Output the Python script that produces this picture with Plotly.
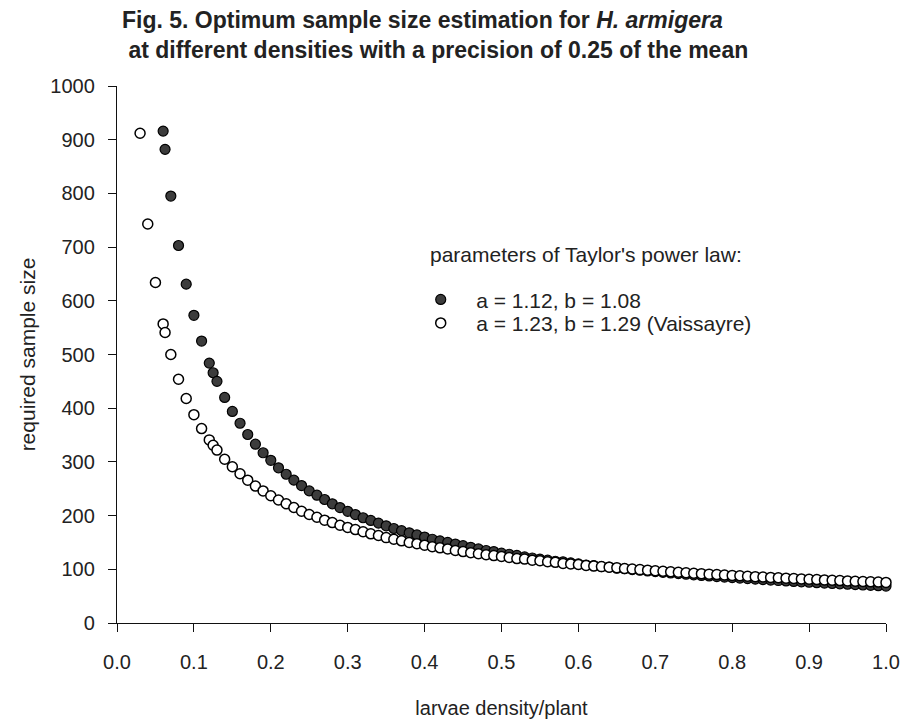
import plotly.graph_objects as go

# larvae density per plant (x values of the plotted points)
density = [0.03, 0.04, 0.05, 0.06, 0.0625, 0.07, 0.08, 0.09, 0.10, 0.11, 0.12, 0.125,
           0.13, 0.14, 0.15, 0.16, 0.17, 0.18, 0.19, 0.20, 0.21, 0.22, 0.23, 0.24, 0.25,
           0.26, 0.27, 0.28, 0.29, 0.30, 0.31, 0.32, 0.33, 0.34, 0.35, 0.36, 0.37, 0.38,
           0.39, 0.40, 0.41, 0.42, 0.43, 0.44, 0.45, 0.46, 0.47, 0.48, 0.49, 0.50, 0.51,
           0.52, 0.53, 0.54, 0.55, 0.56, 0.57, 0.58, 0.59, 0.60, 0.61, 0.62, 0.63, 0.64,
           0.65, 0.66, 0.67, 0.68, 0.69, 0.70, 0.71, 0.72, 0.73, 0.74, 0.75, 0.76, 0.77,
           0.78, 0.79, 0.80, 0.81, 0.82, 0.83, 0.84, 0.85, 0.86, 0.87, 0.88, 0.89, 0.90,
           0.91, 0.92, 0.93, 0.94, 0.95, 0.96, 0.97, 0.98, 0.99, 1.00]

# series 1: a = 1.12, b = 1.08 (filled circles), starts at density 0.06
density_filled = density[3:]
size_filled = [916, 882, 795, 703, 631, 573, 525, 484, 466, 450,
               420, 394, 372, 351, 333, 317, 303, 289, 277, 266, 256, 246, 238, 230,
               222, 215, 208, 202, 196, 191, 186, 181, 176, 172, 168, 164, 160, 156,
               153, 150, 147, 144, 141, 138, 135, 133, 130, 128, 126, 123, 121, 119,
               117, 115, 114, 112, 110, 108, 107, 105, 104, 102, 101, 99.5, 98.2, 96.9,
               95.6, 94.3, 93.1, 92.0, 90.8, 89.7, 88.6, 87.6, 86.5, 85.5, 84.5, 83.6,
               82.6, 81.7, 80.8, 79.9, 79.1, 78.3, 77.4, 76.6, 75.9, 75.1, 74.3, 73.6,
               72.9, 72.2, 71.5, 70.8, 70.1, 69.5, 68.8]

# series 2: a = 1.23, b = 1.29 (Vaissayre) (open circles)
size_open = [912, 743, 634, 557, 541, 500, 454, 418, 388, 362, 341, 331,
             322, 305, 291, 278, 266, 255, 246, 237, 229, 222, 215, 208, 202,
             197, 191.5, 187, 182, 178, 174, 170, 166, 163, 159, 156, 153, 150,
             147.5, 145, 142, 140, 138, 135, 133, 131, 129, 127, 125.5, 124, 122,
             120, 119, 117, 116, 114, 113, 111, 110, 109, 107, 106, 105, 104,
             103, 101.5, 100.5, 99.4, 98.4, 97.4, 96.4, 95.5, 94.5, 93.6, 92.7, 91.9, 91.0,
             90.2, 89.4, 88.6, 87.8, 87.0, 86.3, 85.6, 84.9, 84.2, 83.5, 82.8, 82.1, 81.5,
             80.8, 80.2, 79.6, 79.0, 78.4, 77.8, 77.3, 76.7, 76.2, 75.6]

assert len(density_filled) == len(size_filled)
assert len(density) == len(size_open)

FONT = "Liberation Sans, Arial, sans-serif"
TXT = "#222222"

fig = go.Figure()
fig.add_trace(go.Scatter(
    x=density_filled, y=size_filled, mode="markers",
    name="a = 1.12, b = 1.08", legend="legend",
    marker=dict(size=10, color="#3c3c3c", line=dict(color="#000000", width=1.2)),
    cliponaxis=False,
))
fig.add_trace(go.Scatter(
    x=density, y=size_open, mode="markers",
    name="a = 1.23, b = 1.29 (Vaissayre)", legend="legend2",
    marker=dict(size=10, color="#ffffff", line=dict(color="#000000", width=1.5)),
    cliponaxis=False,
))

leg_common = dict(xanchor="left", yanchor="top", bgcolor="rgba(0,0,0,0)",
                  font=dict(size=21, family=FONT, color=TXT), itemwidth=61)

fig.update_layout(
    width=912, height=727,
    margin=dict(l=117, r=16, t=86, b=91),
    paper_bgcolor="white", plot_bgcolor="white",
    font=dict(family=FONT, size=20, color=TXT),
    showlegend=True,
    legend=dict(x=0.3748, y=0.640, **leg_common),
    legend2=dict(x=0.3748, y=0.5964, **leg_common),
    xaxis=dict(
        range=[0, 1.0], tickmode="linear", tick0=0, dtick=0.1, tickformat=".1f",
        showline=True, linecolor="#111111", linewidth=1.3,
        ticks="outside", ticklen=8, tickcolor="#111111", tickwidth=1.2,
        showgrid=False, zeroline=False, ticklabelstandoff=13,
        tickfont=dict(size=20, family=FONT, color=TXT),
        title=dict(text="larvae density/plant", standoff=28,
                   font=dict(size=20, family=FONT, color=TXT)),
    ),
    yaxis=dict(
        range=[0, 1000], tickmode="linear", tick0=0, dtick=100,
        showline=True, linecolor="#111111", linewidth=1.3,
        ticks="outside", ticklen=8, tickcolor="#111111", tickwidth=1.2,
        showgrid=False, zeroline=False, ticklabelstandoff=9,
        tickfont=dict(size=20, family=FONT, color=TXT),
        title=dict(text="required sample size", standoff=8,
                   font=dict(size=21, family=FONT, color=TXT)),
    ),
    annotations=[
        dict(
            text="Fig. 5. Optimum sample size estimation for <i>H. armigera</i><br> at different densities with a precision of 0.25 of the mean",
            xref="paper", yref="paper", x=0.004, y=1.0, xanchor="left", yanchor="bottom",
            yshift=21, align="left", showarrow=False,
            font=dict(size=23, family=FONT, color=TXT, weight="bold"),
        ),
        dict(
            text="parameters of Taylor's power law:",
            xref="paper", yref="paper", x=0.405, y=0.6867, xanchor="left", yanchor="middle",
            showarrow=False, font=dict(size=21, family=FONT, color=TXT),
        ),
    ],
)

fig.write_html("out.html")
